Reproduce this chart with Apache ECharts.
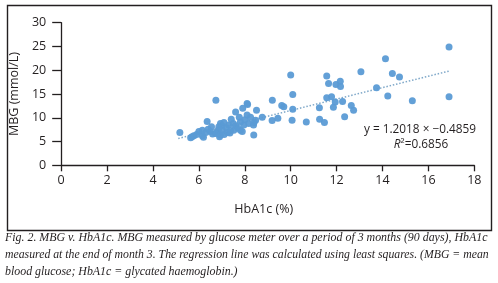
<!DOCTYPE html>
<html>
<head>
<meta charset="utf-8">
<script src="https://cdn.jsdelivr.net/npm/echarts@6/dist/echarts.min.js"></script>
<style>
  html, body { margin: 0; padding: 0; background: #fff; }
  #chart { width: 498px; height: 283px; }
</style>
</head>
<body>
<div id="chart"></div>
<script>
// HbA1c (%) 与 MBG (mmol/L) 的散点数据
var hba1c = [5.17, 5.64, 5.7, 5.78, 5.9, 6.0, 6.15, 6.15, 6.2, 6.3, 6.36, 6.4, 6.5, 6.55, 6.6,
  6.74, 6.73, 6.8, 6.85, 6.87, 6.9, 6.94, 6.94, 7.0, 7.02, 7.09, 7.1, 7.2, 7.24, 7.3,
  7.35, 7.38, 7.41, 7.5, 7.52, 7.6, 7.6, 7.7, 7.76, 7.81, 7.81, 7.89, 7.91, 7.96, 8.0,
  8.1, 8.1, 8.12, 8.17, 8.25, 8.38, 8.39, 8.4, 8.47, 8.51, 8.76, 9.19, 9.2, 9.44, 9.61,
  9.7, 10.0, 10.06, 10.09, 10.09, 10.68, 11.25, 11.26, 11.47, 11.57, 11.65, 11.57, 11.78, 11.86, 11.94,
  11.97, 12.16, 12.17, 12.26, 12.35, 12.64, 12.74, 13.06, 13.74, 14.13, 14.23, 14.43, 14.74, 15.3, 16.9,
  16.9]
var mbg = [6.9, 5.8, 6.0, 6.2, 6.5, 7.1, 6.2, 7.4, 5.9, 6.9, 9.2, 7.6, 7.1, 8.1, 6.6,
  13.7, 6.7, 7.0, 7.5, 8.1, 6.0, 6.4, 8.8, 8.3, 7.4, 9.0, 6.5, 7.9, 6.9, 8.5,
  6.8, 7.3, 9.7, 8.8, 7.4, 11.2, 8.3, 7.8, 10.1, 7.4, 9.1, 7.1, 12.0, 8.5, 9.6,
  10.6, 13.0, 12.8, 8.8, 10.1, 8.5, 6.4, 9.0, 9.5, 11.6, 10.1, 9.4, 13.7, 9.9, 12.6,
  12.3, 19.0, 9.5, 14.9, 11.8, 9.1, 12.1, 9.7, 9.0, 18.8, 17.2, 14.2, 14.4, 12.2, 13.3,
  17.0, 17.7, 16.6, 13.4, 10.2, 12.6, 11.6, 19.7, 16.3, 22.4, 14.6, 19.3, 18.6, 13.6, 24.9,
  14.4]

// 最小二乘回归线
var slope = 1.2018, intercept = -0.4859
var fitRange = [5.1, 16.9]
var xTicks = [0, 18, 2]
var yTicks = [0, 30, 5]
var caption = [
  'Fig. 2. MBG v. HbA1c. MBG measured by glucose meter over a period of 3 months (90 days), HbA1c',
  'measured at the end of month 3. The regression line was calculated using least squares. (MBG = mean',
  'blood glucose; HbA1c = glycated haemoglobin.)'
]

var points = hba1c.map(function (v, i) { return [v, mbg[i]] })
var fitLine = fitRange.map(function (x) { return [x, slope * x + intercept] })

var chart = echarts.init(document.getElementById('chart'), null, { renderer: 'canvas' })
var axisColor = '#231f20'
var labelFont = { color: axisColor, fontSize: 12.5, fontFamily: 'Open Sans' }
// 每行字号略调，模拟两端对齐
var capSizes = [11.9, 11.75, 11.9]

var option = {
  animation: false,
  grid: { left: 60.3, right: 23.7, top: 22.7, bottom: 117.7 },
  xAxis: {
    type: 'value', min: xTicks[0], max: xTicks[1], interval: xTicks[2],
    name: 'HbA1c (%)', nameLocation: 'middle', nameGap: 38,
    nameTextStyle: { color: axisColor, fontSize: 12.5, fontFamily: 'Open Sans', padding: [0, 8, 0, 0] },
    splitLine: { show: false },
    axisLine: { lineStyle: { color: axisColor, width: 1.3 } },
    axisTick: { show: true, length: 6, inside: false, lineStyle: { color: axisColor, width: 1.3 } },
    axisLabel: Object.assign({ margin: 9 }, labelFont)
  },
  yAxis: {
    type: 'value', min: yTicks[0], max: yTicks[1], interval: yTicks[2],
    name: 'MBG (mmol/L)', nameLocation: 'middle', nameGap: 36,
    nameTextStyle: { color: axisColor, fontSize: 12.5, fontFamily: 'Open Sans' },
    splitLine: { show: false },
    axisLine: { show: true, lineStyle: { color: axisColor, width: 1.3 } },
    axisTick: { show: true, length: 9, lineStyle: { color: axisColor, width: 1.3 } },
    axisLabel: Object.assign({ margin: 15 }, labelFont)
  },
  series: [{
    type: 'scatter',
    data: points,
    symbolSize: 7,
    itemStyle: { color: '#5b9bd5', opacity: 0.95 }
  }, {
    type: 'line',
    data: fitLine,
    symbol: 'none',
    lineStyle: { color: '#7fa8c9', width: 1.5, type: [1.5, 1.8] },
    z: 1
  }],
  graphic: [
    { type: 'rect', left: 5, top: 3, shape: { width: 484, height: 225 },
      style: { fill: 'none', stroke: '#231f20', lineWidth: 1.4 }, silent: true },
    { type: 'text', x: 420, y: 130, style: { text: 'y = 1.2018 × −0.4859', align: 'center', verticalAlign: 'middle',
      fill: axisColor, font: '11.8px "Open Sans"' } },
    { type: 'text', x: 421, y: 145, style: {
      text: '{i|R}{n|²=0.6856}', align: 'center', verticalAlign: 'middle',
      rich: {
        i: { fill: axisColor, font: 'italic 11.8px "Open Sans"' },
        n: { fill: axisColor, font: '11.8px "Open Sans"' }
      } } }
  ].concat(caption.map(function (line, i) {
    return { type: 'text', x: 5, y: 238 + i * 17, style: { text: line, verticalAlign: 'middle', fill: axisColor,
      font: 'italic ' + capSizes[i] + 'px "Liberation Serif"' } }
  }))
}
chart.setOption(option)
</script>
</body>
</html>
